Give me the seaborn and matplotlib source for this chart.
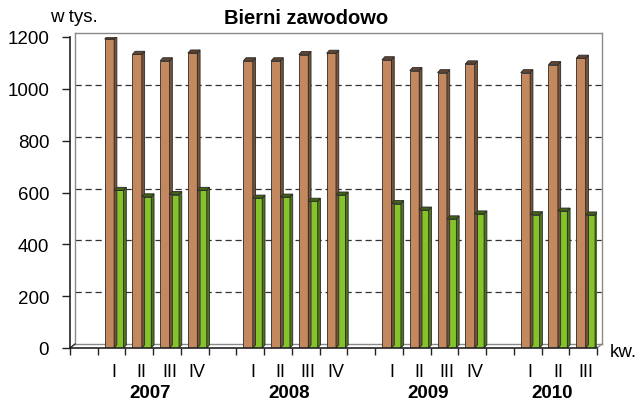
import numpy as np
import pandas as pd
import seaborn as sns
import matplotlib.pyplot as plt
from matplotlib.patches import Polygon
import matplotlib.colors as mcolors

# data (w tys.)
years = ["2007", "2008", "2009", "2010"]
quarters = [["I", "II", "III", "IV"],
            ["I", "II", "III", "IV"],
            ["I", "II", "III", "IV"],
            ["I", "II", "III"]]
seria_1 = [1192, 1133, 1108, 1138,
           1108, 1108, 1132, 1137,
           1112, 1070, 1062, 1096,
           1062, 1093, 1118]
seria_2 = [608, 583, 592, 608,
           578, 582, 566, 590,
           557, 532, 498, 517,
           514, 528, 513]

brown = "#C4885E"
green = "#84C42A"

# slots: one empty slot before every year
slot_pos, slot_lab, year_pos = [], [], []
s = 0
for y, qs in zip(years, quarters):
    s += 1
    first = s
    for q in qs:
        slot_pos.append(s)
        slot_lab.append(q)
        s += 1
    year_pos.append((first + s - 1) / 2)
n_slots = s

df = pd.DataFrame({
    "slot": slot_pos * 2,
    "seria": ["seria_1"] * len(seria_1) + ["seria_2"] * len(seria_2),
    "value": seria_1 + seria_2,
})

sns.set_style("white")
plt.rcParams["font.family"] = ["Liberation Sans", "DejaVu Sans"]
plt.rcParams["text.color"] = "black"
plt.rcParams["xtick.color"] = "black"
plt.rcParams["ytick.color"] = "black"

fig = plt.figure(figsize=(6.37, 4.06), dpi=100)
W, H = 637, 406
left, bottom, width, height = 70 / W, 57 / H, 527 / W, 311 / H
offx, offy = 5 / W, 4 / H

# back wall with dashed grid
axb = fig.add_axes([left + offx, bottom + offy, width, height])
axb.set_ylim(0, 1200)
axb.set_xlim(0, 1)
axb.set_xticks([])
axb.set_yticks([])
for v in range(200, 1200, 200):
    axb.axhline(v, color="#333333", lw=0.9, ls=(0, (5, 3)))
for sp in axb.spines.values():
    sp.set_color("#8a8a8a")
    sp.set_linewidth(1.0)

# front axes with bars
ax = fig.add_axes([left, bottom, width, height])
ax.patch.set_alpha(0)
sns.barplot(data=df, x="slot", y="value", hue="seria", order=list(range(n_slots)),
            hue_order=["seria_1", "seria_2"], palette=[brown, green], saturation=1,
            width=0.68, edgecolor="#2a2a2a", linewidth=0.6, legend=False, ax=ax)

shift = 0.09
ax.set_xlim(-0.5 - shift, n_slots - 0.5 - shift)
ax.set_ylim(0, 1200)

# fake 3d depth on each bar
dx, dy = 0.1, 12
for p in list(ax.patches):
    x0, y0 = p.get_x(), p.get_y()
    w, h = p.get_width(), p.get_height()
    if np.isnan(h) or h == 0:
        continue
    fc = np.array(mcolors.to_rgb(p.get_facecolor()))
    side = Polygon([(x0 + w, y0), (x0 + w + dx, y0 + dy), (x0 + w + dx, y0 + h + dy), (x0 + w, y0 + h)],
                   closed=True, fc=fc * 0.6, ec="#2a2a2a", lw=0.6, zorder=p.get_zorder())
    top = Polygon([(x0, y0 + h), (x0 + dx, y0 + h + dy), (x0 + w + dx, y0 + h + dy), (x0 + w, y0 + h)],
                  closed=True, fc=fc * 0.5, ec="#2a2a2a", lw=0.6, zorder=p.get_zorder())
    ax.add_patch(side)
    ax.add_patch(top)

ax.set_xlabel("")
ax.set_ylabel("")
ax.set_yticks(range(0, 1201, 200))
ax.tick_params(axis="y", left=True, length=6, width=1, pad=9, labelsize=13.5, color="#222222")
ax.set_xticks(slot_pos)
ax.set_xticklabels(slot_lab)
ax.set_xticks(np.arange(-0.5, n_slots) - shift, minor=True)
ax.tick_params(axis="x", which="major", bottom=True, length=0, pad=11, labelsize=13)
ax.tick_params(axis="x", which="minor", bottom=True, length=5, width=1, color="#222222")
for sp in ["top", "right"]:
    ax.spines[sp].set_visible(False)
for sp in ["left", "bottom"]:
    ax.spines[sp].set_color("#222222")
    ax.spines[sp].set_linewidth(1.2)

# floor / wall connectors
ddx, ddy = offx / width, offy / height
ax.plot([0, ddx], [0, ddy], transform=ax.transAxes, color="#222222", lw=1, clip_on=False)
ax.plot([1, 1 + ddx], [0, ddy], transform=ax.transAxes, color="#8a8a8a", lw=1, clip_on=False)

for yp, yl in zip(year_pos, years):
    ax.text(yp - 0.19, -0.142, yl, transform=ax.get_xaxis_transform(),
            ha="center", va="center", fontsize=13.5, fontweight="bold")

fig.text(306 / W, 1 - 18 / H, "Bierni zawodowo", ha="center", va="center",
         fontsize=14.5, fontweight="bold")
fig.text(50 / W, 1 - 17 / H, "w tys.", ha="left", va="center", fontsize=13.5)
fig.text(610 / W, 1 - 353 / H, "kw.", ha="left", va="center", fontsize=13.5)

fig.savefig("out.png", dpi=100)
